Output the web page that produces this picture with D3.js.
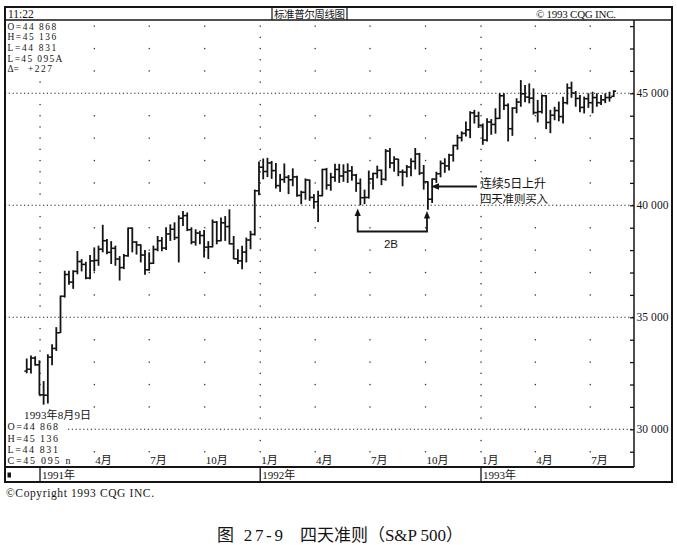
<!DOCTYPE html>
<html>
<head>
<meta charset="utf-8">
<script src="https://cdn.jsdelivr.net/npm/d3@7"></script>
<style>
  body { margin: 0; background: #fff; }
  svg { display: block; }
  .serif { font-family: "Liberation Serif", "DejaVu Serif", serif; }
  .cjk { font-family: "Liberation Serif", "Noto Sans CJK SC", sans-serif; }
</style>
</head>
<body>
<script>
// Weekly S&P 500 bars (index points), one per week starting Monday 10 Dec 1990
var firstWeek = new Date(1990, 11, 10);

var opens = [326.0,326.8,331.8,328.8,315.4,315.2,332.2,336.1,343.1,359.4,
  369.1,365.7,370.5,374.9,373.6,367.5,375.2,375.4,380.4,384.2,
  379.0,380.8,376.0,372.2,377.5,389.8,383.6,382.3,377.8,371.2,
  374.1,380.3,384.2,380.9,387.2,389.3,385.6,394.2,395.4,389.1,
  383.6,387.6,386.5,381.3,381.5,392.5,384.2,392.2,390.5,382.8,
  376.1,375.2,379.1,384.5,387.0,406.5,417.0,415.1,418.9,415.5,
  408.8,411.5,412.5,411.4,412.7,404.4,405.8,411.3,403.5,401.6,
  404.3,416.0,409.0,412.5,416.0,413.1,414.8,415.4,413.5,409.8,
  403.4,403.5,411.8,414.2,415.6,411.6,424.2,418.9,420.6,414.9,
  414.8,417.1,419.6,422.9,414.4,410.5,402.7,411.7,414.1,418.7,
  417.6,422.4,426.7,430.2,432.1,433.7,441.3,439.8,435.7,429.1,
  437.2,436.1,438.8,448.9,444.6,434.2,443.4,446.1,449.8,448.3,
  447.8,441.4,441.8,448.9,437.0,440.2,442.3,439.6,445.8,452.4,
  450.1,447.7,443.7,447.6,445.8,448.1,445.8,447.1,448.1,448.68];

var highs = [331.6,333.0,332.6,330.8,321.5,333.5,338.0,345.6,359.7,370.8,
  370.8,371.0,379.6,376.0,374.8,377.8,381.2,382.0,391.3,385.0,
  384.0,382.0,377.3,378.3,390.1,390.1,384.0,382.6,380.0,379.0,
  382.0,386.3,385.8,390.2,391.5,392.4,395.5,397.4,396.8,390.2,
  389.3,388.6,389.0,384.0,393.7,393.0,394.6,395.2,398.2,386.3,
  380.4,381.9,385.6,388.6,407.0,419.6,420.9,421.2,419.8,418.9,
  414.0,418.7,413.5,416.5,413.2,406.5,412.0,411.5,405.0,406.5,
  416.3,416.7,414.5,418.6,418.5,418.3,418.7,417.5,414.0,412.0,
  407.0,415.5,414.5,417.7,416.0,425.1,425.6,421.9,420.8,416.0,
  418.0,421.0,425.6,423.4,418.0,410.7,412.0,415.0,420.0,421.0,
  423.0,427.0,431.5,433.0,437.4,442.0,442.6,441.8,436.5,438.9,
  438.5,443.3,450.0,450.0,445.5,443.8,447.8,455.9,453.7,454.4,
  452.2,447.0,449.5,449.2,442.6,444.0,446.3,448.5,454.4,455.2,
  451.0,449.2,448.5,450.0,450.7,450.0,449.2,450.0,450.7,451.36];

var lows = [325.0,324.9,328.4,315.2,311.0,311.5,328.6,335.0,343.0,358.8,
  364.5,362.7,369.2,370.5,367.0,367.0,370.5,373.0,379.0,378.2,
  373.8,373.0,366.4,371.5,377.0,379.0,378.0,374.5,369.0,370.8,
  373.8,379.5,379.5,380.0,384.1,384.5,374.5,390.8,388.5,382.6,
  382.0,382.6,376.7,376.0,381.2,382.6,384.0,384.1,382.6,376.0,
  373.8,371.5,374.5,380.4,386.5,404.5,411.6,412.6,411.8,407.5,
  406.0,410.0,405.0,408.5,403.8,400.5,402.5,402.0,398.5,392.5,
  404.0,407.0,406.5,410.5,410.0,410.5,410.0,411.0,406.0,400.0,
  400.5,403.0,407.0,412.0,409.0,411.0,416.5,415.0,413.0,408.5,
  412.5,413.0,416.0,413.5,407.0,398.0,401.0,410.0,412.5,414.5,
  415.5,419.5,424.8,428.5,430.7,430.0,436.5,434.5,427.0,428.5,
  431.5,432.0,438.5,442.5,428.5,431.0,441.1,444.0,446.0,445.5,
  440.5,437.0,441.0,434.0,432.2,438.0,437.5,436.5,445.0,448.0,
  444.0,441.5,441.0,443.5,441.1,444.0,444.8,445.6,446.3,448.31];

var closes = [326.8,331.8,328.8,315.4,315.2,332.2,336.1,343.1,359.4,369.1,
  365.7,370.5,374.9,373.6,367.5,375.2,375.4,380.4,384.2,379.0,
  380.8,376.0,372.2,377.5,389.8,383.6,382.3,377.8,371.2,374.1,
  380.3,384.2,380.9,387.2,389.3,385.6,394.2,395.4,389.1,383.6,
  387.6,386.5,381.3,381.5,392.5,384.2,392.2,390.5,382.8,376.1,
  375.2,379.1,384.5,387.0,406.5,417.0,415.1,418.9,415.5,408.8,
  411.5,412.5,411.4,412.7,404.4,405.8,411.3,403.5,401.6,404.3,
  416.0,409.0,412.5,416.0,413.1,414.8,415.4,413.5,409.8,403.4,
  403.5,411.8,414.2,415.6,411.6,424.2,418.9,420.6,414.9,414.8,
  417.1,419.6,422.9,414.4,410.5,402.7,411.7,414.1,418.7,417.6,
  422.4,426.7,430.2,432.1,433.7,441.3,439.8,435.7,429.1,437.2,
  436.1,438.8,448.9,444.6,434.2,443.4,446.1,449.8,448.3,447.8,
  441.4,441.8,448.9,437.0,440.2,442.3,439.6,445.8,452.4,450.1,
  447.7,443.7,447.6,445.8,448.1,445.8,447.1,448.1,448.1,450.95];

var levelLabels = [300, 350, 400, 450];
var quarterDates = ["1991-04-01","1991-07-01","1991-10-01","1992-01-01","1992-04-01",
  "1992-07-01","1992-10-01","1993-01-01","1993-04-01","1993-07-01"];
var quarterLabels = ["4月","7月","10月","1月","4月","7月","10月","1月","4月","7月"];
var yearStarts = ["1991-01-01","1992-01-01","1993-01-01"];
var yearLabels = ["1991年","1992年","1993年"];
var lastBarLines = ["O=44 868","H=45 136","L=44 831","C=45 095 n"];
var headLines = ["O=44 868","H=45 136","L=44 831","L=45 095A"];

// ----- frame geometry
var W = 677, H = 545;
var frameL = 5, frameR = 672, frameT = 7, titleBottom = 20;
var plotRight = 634, plotBottom = 467, stripBottom = 482;

var parse = d3.timeParse("%Y-%m-%d");
var x = d3.scaleTime()
    .domain([new Date(1991, 0, 1), new Date(1993, 0, 1)])
    .range([40, 481]);
var y = d3.scaleLinear()
    .domain([300, 450])
    .range([429.3, 93.3]);

var fmt = d3.formatLocale({ decimal: ".", thousands: " ", grouping: [3], currency: ["", ""] }).format(",d");

var svg = d3.select("body").append("svg")
    .attr("width", W).attr("height", H)
    .attr("viewBox", "0 0 " + W + " " + H);

svg.append("rect").attr("width", W).attr("height", H).attr("fill", "#fff");

var ink = "#141414";

// ----- grid dots (quarter columns, denser on January)
var gridCols = [new Date(1991, 0, 1)].concat(quarterDates.map(parse));
var dots = [];
gridCols.forEach(function(d) {
  var step = d.getMonth() === 0 ? 5 : 10;
  for (var v = 290; v <= 480; v += step) {
    if (v % 50 === 0) continue;
    var px = x(d), py = y(v);
    if (py < titleBottom + 3 || py > plotBottom - 3) continue;
    if (px < 62 && py < 80) continue;
    if (px < 62 && py > 405) continue;
    dots.push([px, py]);
  }
});
svg.append("g").selectAll("rect").data(dots).enter().append("rect")
    .attr("x", function(d) { return d[0] - 0.6; })
    .attr("y", function(d) { return d[1] - 0.6; })
    .attr("width", 1.3).attr("height", 1.3)
    .attr("fill", "#333");

// ----- dotted level lines
svg.append("g").selectAll("line").data(levelLabels).enter().append("line")
    .attr("x1", function(d) { return d === 300 ? 68 : frameL; })
    .attr("x2", plotRight)
    .attr("y1", function(d) { return y(d); })
    .attr("y2", function(d) { return y(d); })
    .attr("stroke", "#222").attr("stroke-width", 1.1)
    .attr("stroke-dasharray", "1.2,2.6");

// ----- price bars
var bars = d3.range(opens.length).map(function(i) {
  return { date: d3.timeDay.offset(firstWeek, 7 * i), o: opens[i], h: highs[i], l: lows[i], c: closes[i] };
});
var gb = svg.append("g").attr("stroke", ink).attr("stroke-linecap", "butt");
gb.selectAll("line.hl").data(bars).enter().append("line")
    .attr("class", "hl")
    .attr("x1", function(d) { return x(d.date); })
    .attr("x2", function(d) { return x(d.date); })
    .attr("y1", function(d) { return y(d.h); })
    .attr("y2", function(d) { return y(d.l); })
    .attr("stroke-width", 1.8);
gb.selectAll("line.op").data(bars).enter().append("line")
    .attr("class", "op")
    .attr("x1", function(d) { return x(d.date) - 2.4; })
    .attr("x2", function(d) { return x(d.date); })
    .attr("y1", function(d) { return y(d.o); })
    .attr("y2", function(d) { return y(d.o); })
    .attr("stroke-width", 1.5);
gb.selectAll("line.cl").data(bars).enter().append("line")
    .attr("class", "cl")
    .attr("x1", function(d) { return x(d.date); })
    .attr("x2", function(d) { return x(d.date) + 2.4; })
    .attr("y1", function(d) { return y(d.c); })
    .attr("y2", function(d) { return y(d.c); })
    .attr("stroke-width", 1.5);

// ----- right price axis
var axis = d3.axisLeft(y)
    .tickValues(d3.range(290, 490, 10))
    .tickSize(4)
    .tickFormat("");
var ga = svg.append("g").attr("transform", "translate(" + plotRight + ",0)").call(axis);
ga.select(".domain").remove();
ga.selectAll("line").attr("stroke", ink).attr("stroke-width", 1.3);

svg.append("g").selectAll("text").data(levelLabels).enter().append("text")
    .attr("class", "serif")
    .attr("x", plotRight + 2.5)
    .attr("y", function(d) { return y(d) + 4; })
    .attr("font-size", 11.5)
    .attr("textLength", 32)
    .attr("fill", ink)
    .text(function(d) { return fmt(d * 100); });

// ----- frame lines
var frame = svg.append("g").attr("stroke", ink).attr("fill", "none");
frame.append("rect").attr("x", frameL).attr("y", frameT)
    .attr("width", frameR - frameL).attr("height", stripBottom - frameT)
    .attr("stroke-width", 2);
frame.append("line").attr("x1", frameL).attr("x2", frameR).attr("y1", titleBottom).attr("y2", titleBottom).attr("stroke-width", 1.5);
frame.append("line").attr("x1", plotRight).attr("x2", plotRight).attr("y1", titleBottom).attr("y2", plotBottom).attr("stroke-width", 1.5);
frame.append("line").attr("x1", frameL).attr("x2", plotRight).attr("y1", plotBottom).attr("y2", plotBottom).attr("stroke-width", 1.8);
frame.append("line").attr("x1", 272).attr("x2", 272).attr("y1", frameT).attr("y2", titleBottom).attr("stroke-width", 1.2);
frame.append("line").attr("x1", 347).attr("x2", 347).attr("y1", frameT).attr("y2", titleBottom).attr("stroke-width", 1.2);

// year strip
frame.selectAll("line.yr").data(yearStarts).enter().append("line")
    .attr("class", "yr")
    .attr("x1", function(d) { return x(parse(d)); })
    .attr("x2", function(d) { return x(parse(d)); })
    .attr("y1", plotBottom).attr("y2", stripBottom)
    .attr("stroke-width", 1.3);
svg.append("rect").attr("x", 7.5).attr("y", 472.5).attr("width", 3.5).attr("height", 5).attr("fill", ink);
svg.append("g").selectAll("text").data(yearStarts).enter().append("text")
    .attr("class", "cjk")
    .attr("x", function(d) { return x(parse(d)) + 2; })
    .attr("y", 479)
    .attr("font-size", 11).attr("fill", ink)
    .text(function(d, i) { return yearLabels[i]; });

// month labels
svg.append("g").selectAll("text").data(quarterDates).enter().append("text")
    .attr("class", "cjk")
    .attr("x", function(d) { return x(parse(d)) + 1; })
    .attr("y", 464)
    .attr("font-size", 11).attr("fill", ink)
    .text(function(d, i) { return quarterLabels[i]; });

// ----- title bar texts
svg.append("text").attr("class", "serif").attr("x", 8).attr("y", 17.5)
    .attr("font-size", 11.5).attr("fill", ink).text("11:22");
svg.append("text").attr("x", 274).attr("y", 17.5)
    .style("font-family", "'Noto Sans CJK SC', sans-serif")
    .attr("font-size", 10.5).attr("textLength", 71).attr("fill", ink).text("标准普尔周线图");
svg.append("text").attr("class", "serif").attr("x", 536).attr("y", 17.5)
    .attr("font-size", 11).attr("textLength", 80).attr("fill", ink).text("© 1993 CQG INC.");

// ----- top-left readout
var headY = [29.8, 40.4, 51, 61.6, 72.2];
svg.append("g").selectAll("text").data(headLines).enter().append("text")
    .attr("class", "serif")
    .attr("x", 7.5)
    .attr("y", function(d, i) { return headY[i]; })
    .attr("font-size", 9.4)
    .attr("textLength", function(d) { return d.length * 6.1; })
    .attr("fill", ink)
    .text(function(d) { return d; });
svg.append("text").attr("class", "serif").attr("x", 7.5).attr("y", headY[4])
    .attr("font-size", 9.4).attr("fill", ink).text("Δ=");
svg.append("text").attr("class", "serif").attr("x", 28).attr("y", headY[4])
    .attr("font-size", 9.4).attr("textLength", 24).attr("fill", ink).text("+227");

// ----- bottom-left readout
svg.append("text").attr("class", "cjk").attr("x", 24).attr("y", 418.5)
    .attr("font-size", 11).attr("textLength", 67).attr("fill", ink).text("1993年8月9日");
svg.append("g").selectAll("text").data(lastBarLines).enter().append("text")
    .attr("class", "serif")
    .attr("x", 7.5)
    .attr("y", function(d, i) { return 430.4 + i * 11.2; })
    .attr("font-size", 10)
    .attr("textLength", function(d) { return d.length * 6.3; })
    .attr("fill", ink)
    .text(function(d) { return d; });

// ----- annotations
var ann = svg.append("g").attr("stroke", ink).attr("fill", "none").attr("stroke-width", 1.8);
ann.append("path").attr("d", "M477,186.5H437");
ann.append("path").attr("d", "M357.7,214V231.5H427V216");
var heads = svg.append("g").attr("fill", ink);
heads.append("path").attr("d", "M431,186.5L439,183.3L439,189.7Z");
heads.append("path").attr("d", "M357.7,208.5L354.6,216L360.8,216Z");
heads.append("path").attr("d", "M427,211L423.9,218.5L430.1,218.5Z");

svg.append("text").attr("x", 391).attr("y", 247.5).attr("text-anchor", "middle")
    .style("font-family", "'Liberation Sans', sans-serif")
    .attr("font-size", 11.5).attr("fill", ink).text("2B");
svg.append("text").attr("x", 480).attr("y", 187.5)
    .style("font-family", "'Noto Sans CJK SC', sans-serif")
    .attr("font-size", 12).attr("textLength", 66).attr("fill", ink).text("连续5日上升");
svg.append("text").attr("x", 480).attr("y", 202.5)
    .style("font-family", "'Noto Sans CJK SC', sans-serif")
    .attr("font-size", 11.5).attr("textLength", 68).attr("fill", ink).text("四天准则买入");

// ----- notes under the chart
svg.append("text").attr("class", "serif").attr("x", 6).attr("y", 497)
    .attr("font-size", 11.5).attr("textLength", 148).attr("fill", ink).text("©Copyright 1993 CQG INC.");
svg.append("text").attr("class", "cjk").attr("x", 217).attr("y", 541)
    .attr("font-size", 17).attr("textLength", 66).attr("fill", ink).text("图 27-9");
svg.append("text").attr("class", "cjk").attr("x", 300).attr("y", 541)
    .attr("font-size", 17).attr("textLength", 163).attr("fill", ink).text("四天准则（S&P 500）");
</script>
</body>
</html>
